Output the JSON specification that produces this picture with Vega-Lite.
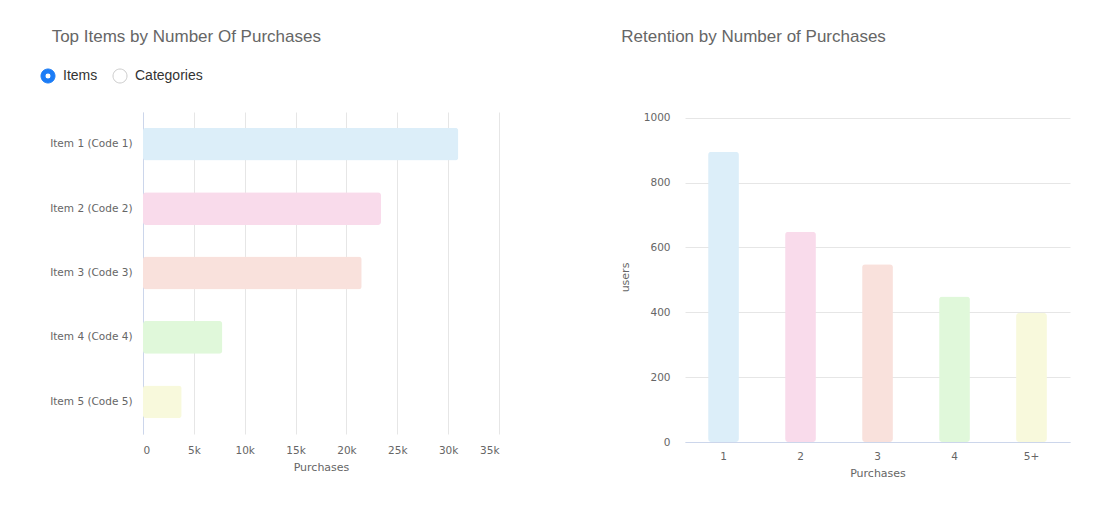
{
  "$schema": "https://vega.github.io/schema/vega-lite/v6.json",
  "background": "white",
  "padding": {"left": 40, "top": 28, "right": 5, "bottom": 5},
  "datasets": {
    "items": [
      {"item": "Item 1 (Code 1)", "purchases": 31000},
      {"item": "Item 2 (Code 2)", "purchases": 23400},
      {"item": "Item 3 (Code 3)", "purchases": 21500},
      {"item": "Item 4 (Code 4)", "purchases": 7800},
      {"item": "Item 5 (Code 5)", "purchases": 3800}
    ],
    "options": [
      {"option": "Items"},
      {"option": "Categories"}
    ],
    "retention": [
      {"purchases": "1", "users": 895},
      {"purchases": "2", "users": 648},
      {"purchases": "3", "users": 548},
      {"purchases": "4", "users": 449},
      {"purchases": "5+", "users": 398}
    ]
  },
  "hconcat": [
    {
      "title": {"text": "Top Items by Number Of Purchases", "anchor": "start", "frame": "bounds", "fontSize": 17, "fontWeight": "normal", "color": "#666666", "font": "Liberation Sans", "offset": 66, "dx": 2},
      "width": 356,
      "height": 322,
      "layer": [
        {
          "data": {"name": "items"},
          "mark": {"type": "bar", "cornerRadius": 3},
          "encoding": {
            "y": {"field": "item", "type": "nominal", "sort": null,
              "scale": {"paddingInner": 0.49, "paddingOuter": 0.245},
              "axis": {"title": null, "domainColor": "#ccd6eb", "ticks": false, "grid": false, "labelPadding": 11, "labelFontSize": 10.5, "labelColor": "#666666", "labelFont": "DejaVu Sans"}},
            "x": {"field": "purchases", "type": "quantitative",
              "scale": {"domain": [0, 35000], "nice": false},
              "axis": {"values": [0, 5000, 10000, 15000, 20000, 25000, 30000, 35000], "labelExpr": "datum.value === 0 ? '0' : (datum.value / 1000) + 'k'", "title": "Purchases", "domain": false, "ticks": false, "grid": true, "gridColor": "#e6e6e6", "labelPadding": 11, "labelFontSize": 10.5, "labelColor": "#666666", "labelFont": "DejaVu Sans", "titleFont": "DejaVu Sans", "titleFontSize": 11, "titleFontWeight": "normal", "titleColor": "#666666", "titlePadding": 6}},
            "color": {"field": "item", "type": "nominal", "sort": null, "legend": null,
              "scale": {"range": ["#dceef9", "#f9dbeb", "#f9e1dc", "#e0f8da", "#f8f9dc"]}}
          }
        },
        {
          "data": {"name": "options"},
          "mark": {"type": "point", "opacity": 0, "filled": true, "size": 225, "strokeWidth": 1},
          "encoding": {
            "fill": {"field": "option", "type": "nominal", "sort": null,
              "scale": {"domain": ["Items", "Categories"], "range": ["#1b7cf6", "#ffffff"]},
              "legend": {"orient": "none", "legendX": -103, "legendY": -44, "direction": "horizontal", "title": null, "symbolSize": 225, "symbolStrokeWidth": 1, "symbolOpacity": 1, "labelFontSize": 14, "labelColor": "#333333", "labelFont": "Liberation Sans", "labelOffset": 7, "columnPadding": 13,
                "encode": {"symbols": {"update": {"opacity": {"value": 1}, "fillOpacity": {"value": 1}, "strokeOpacity": {"value": 1}}}}}},
            "stroke": {"field": "option", "type": "nominal", "sort": null,
              "scale": {"domain": ["Items", "Categories"], "range": ["#1b7cf6", "#cccccc"]}},
            "shape": {"field": "option", "type": "nominal", "sort": null,
              "scale": {"domain": ["Items", "Categories"], "range": ["M -0.933 0 A 0.933 0.933 0 1 0 0.933 0 A 0.933 0.933 0 1 0 -0.933 0 Z M -0.4 0 A 0.4 0.4 0 1 1 0.4 0 A 0.4 0.4 0 1 1 -0.4 0 Z", "M -0.933 0 A 0.933 0.933 0 1 0 0.933 0 A 0.933 0.933 0 1 0 -0.933 0 Z"]}}
          }
        }
      ]
    },
    {
      "title": {"text": "Retention by Number of Purchases", "anchor": "start", "frame": "bounds", "fontSize": 17, "fontWeight": "normal", "color": "#666666", "font": "Liberation Sans", "offset": 66, "dx": 2},
      "width": 385,
      "height": 330,
      "data": {"name": "retention"},
      "mark": {"type": "bar", "cornerRadius": 3},
      "encoding": {
        "x": {"field": "purchases", "type": "nominal", "sort": null,
          "scale": {"paddingInner": 0.6, "paddingOuter": 0.3},
          "axis": {"title": "Purchases", "labelAngle": 0, "domainColor": "#ccd6eb", "ticks": false, "grid": false, "labelPadding": 9, "labelFontSize": 10.5, "labelColor": "#666666", "labelFont": "DejaVu Sans", "titleFont": "DejaVu Sans", "titleFontSize": 11, "titleFontWeight": "normal", "titleColor": "#666666", "titlePadding": 6}},
        "y": {"field": "users", "type": "quantitative",
          "scale": {"domain": [0, 1017.6], "nice": false},
          "axis": {"values": [0, 200, 400, 600, 800, 1000], "format": "d", "title": "users", "domain": false, "ticks": false, "grid": true, "gridColor": "#e6e6e6", "labelPadding": 15, "labelFontSize": 10.5, "labelColor": "#666666", "labelFont": "DejaVu Sans", "titleFont": "DejaVu Sans", "titleFontSize": 11, "titleFontWeight": "normal", "titleColor": "#666666", "titlePadding": 13}},
        "color": {"field": "purchases", "type": "nominal", "sort": null, "legend": null,
          "scale": {"range": ["#dceef9", "#f9dbeb", "#f9e1dc", "#e0f8da", "#f8f9dc"]}}
      }
    }
  ],
  "spacing": 120,
  "config": {"view": {"stroke": null}}
}
